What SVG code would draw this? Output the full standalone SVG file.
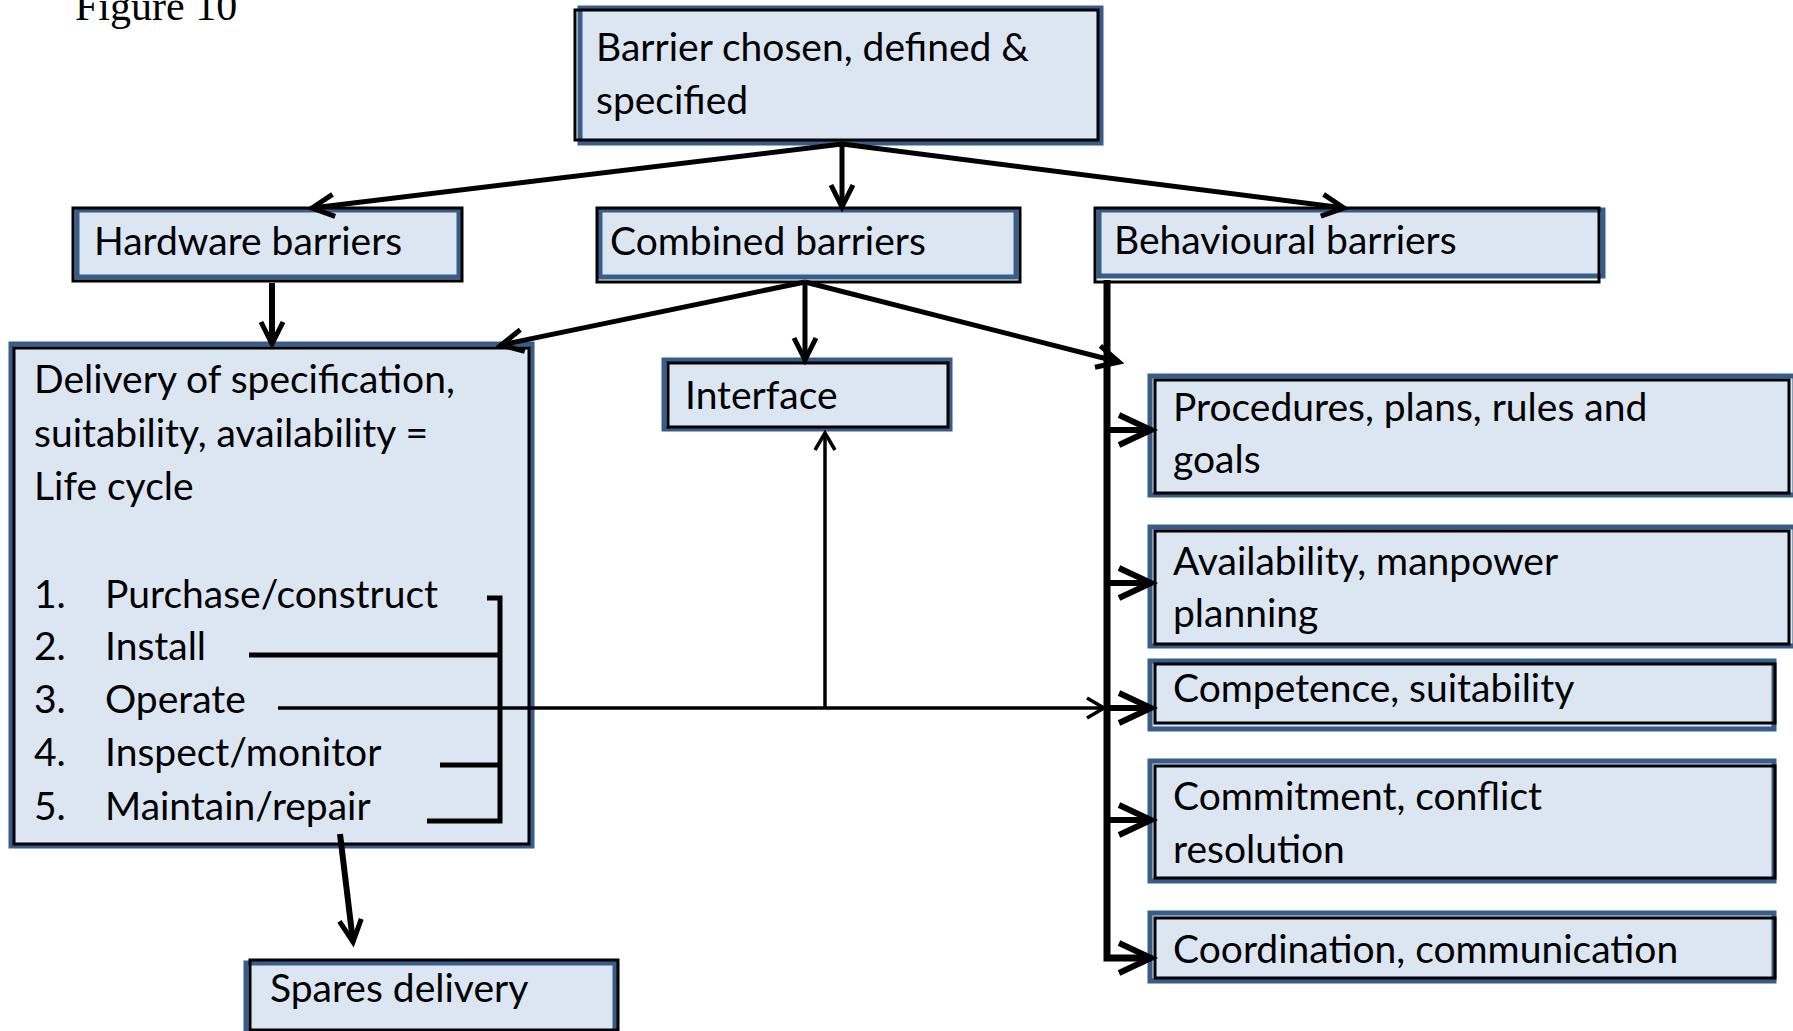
<svg xmlns="http://www.w3.org/2000/svg" width="1793" height="1031" viewBox="0 0 1793 1031">
  <style>
    .bl { fill: #DCE6F2; stroke: #385D8A; stroke-width: 5; }
    .bk { fill: none; stroke: #000; stroke-width: 3; }
    .t { font-family: Lato, "Open Sans", sans-serif; font-size: 39px; fill: #000; }
    .title { font-family: "Liberation Serif", "Times New Roman", serif; font-size: 42px; fill: #000; }
    .c { fill: none; stroke: #000; stroke-linecap: butt; stroke-linejoin: miter; }
    .w5 { stroke-width: 5; }
    .w6 { stroke-width: 6; }
    .w7 { stroke-width: 7; }
    .w35 { stroke-width: 3.5; }
  </style>
  <defs>
    <marker id="head" viewBox="-28 -16 32 32" refX="0" refY="0" markerWidth="32" markerHeight="32" orient="auto" markerUnits="userSpaceOnUse" overflow="visible">
      <path d="M-22,-11 L0,0 L-22,11" fill="none" stroke="#000" stroke-width="5"/>
    </marker>
    <marker id="busHead" viewBox="-38 -20 42 40" refX="0" refY="0" markerWidth="42" markerHeight="40" orient="auto" markerUnits="userSpaceOnUse" overflow="visible">
      <path d="M-32,-15 L0,0 L-32,15" fill="none" stroke="#000" stroke-width="6"/>
    </marker>
    <marker id="thinHead" viewBox="-22 -14 26 28" refX="0" refY="0" markerWidth="26" markerHeight="28" orient="auto" markerUnits="userSpaceOnUse" overflow="visible">
      <path d="M-17,-10 L0,0 L-17,10" fill="none" stroke="#000" stroke-width="3.5"/>
    </marker>
  </defs>

  <rect width="1793" height="1031" fill="#fff"/>

  <text class="title" x="75" y="20">Figure 10</text>

  <g id="node-barrier">
    <rect class="bl" x="580" y="8" width="521" height="135"/>
    <rect class="bk" x="575" y="10" width="523" height="130" stroke-width="2"/>
    <text class="t" x="596" y="61">Barrier chosen, defined &amp;</text>
    <text class="t" x="596" y="114">specified</text>
  </g>

  <g id="node-hardware">
    <rect class="bl" x="77" y="210" width="382" height="67"/>
    <rect class="bk" x="73" y="208" width="389" height="73"/>
    <text class="t" x="94" y="255">Hardware barriers</text>
  </g>

  <g id="node-combined">
    <rect class="bl" x="600" y="210" width="416" height="67"/>
    <rect class="bk" x="597" y="208" width="423" height="74"/>
    <text class="t" x="610" y="255">Combined barriers</text>
  </g>

  <g id="node-behavioural">
    <rect class="bl" x="1099" y="210" width="504" height="66" stroke-width="6"/>
    <rect class="bk" x="1095" y="208" width="504" height="74" stroke-width="2"/>
    <text class="t" x="1114" y="254">Behavioural barriers</text>
  </g>

  <g id="node-delivery">
    <rect class="bl" x="11" y="344" width="521" height="502"/>
    <rect class="bk" x="14" y="348" width="515" height="496" stroke-width="2.5"/>
    <text class="t" x="34" y="393">Delivery of specification,</text>
    <text class="t" x="34" y="447">suitability, availability =</text>
    <text class="t" x="34" y="500">Life cycle</text>
    <text class="t" x="34" y="608">1.</text>
    <text class="t" x="105" y="608">Purchase/construct</text>
    <text class="t" x="34" y="660">2.</text>
    <text class="t" x="105" y="660">Install</text>
    <text class="t" x="34" y="713">3.</text>
    <text class="t" x="105" y="713">Operate</text>
    <text class="t" x="34" y="766">4.</text>
    <text class="t" x="105" y="766">Inspect/monitor</text>
    <text class="t" x="34" y="820">5.</text>
    <text class="t" x="105" y="820">Maintain/repair</text>
  </g>

  <g id="node-interface">
    <rect class="bl" x="664" y="360" width="286" height="69" stroke-width="4"/>
    <rect class="bk" x="668" y="363" width="280" height="64"/>
    <text class="t" x="685" y="409">Interface</text>
  </g>

  <g id="node-spares">
    <rect class="bl" x="246" y="963" width="369" height="72"/>
    <rect class="bk" x="250" y="960" width="368" height="70"/>
    <text class="t" x="270" y="1002">Spares delivery</text>
  </g>

  <g id="node-procedures">
    <rect class="bl" x="1150" y="376" width="645" height="119"/>
    <rect class="bk" x="1155" y="380" width="634" height="113"/>
    <text class="t" x="1173" y="421">Procedures, plans, rules and</text>
    <text class="t" x="1173" y="473">goals</text>
  </g>

  <g id="node-availability">
    <rect class="bl" x="1150" y="527" width="645" height="119"/>
    <rect class="bk" x="1155" y="531" width="634" height="113"/>
    <text class="t" x="1173" y="575">Availability, manpower</text>
    <text class="t" x="1173" y="627">planning</text>
  </g>

  <g id="node-competence">
    <rect class="bl" x="1150" y="661" width="624" height="68"/>
    <rect class="bk" x="1155" y="664" width="620" height="59"/>
    <text class="t" x="1173" y="702">Competence, suitability</text>
  </g>

  <g id="node-commitment">
    <rect class="bl" x="1150" y="761" width="624" height="120"/>
    <rect class="bk" x="1155" y="766" width="620" height="112"/>
    <text class="t" x="1173" y="810">Commitment, conflict</text>
    <text class="t" x="1173" y="863">resolution</text>
  </g>

  <g id="node-coordination">
    <rect class="bl" x="1150" y="913" width="624" height="68"/>
    <rect class="bk" x="1155" y="918" width="620" height="60"/>
    <text class="t" x="1173" y="963">Coordination, communication</text>
  </g>

  <g id="connectors">
    <!-- from the chosen barrier to the three barrier types -->
    <line class="c w5" x1="842" y1="144" x2="312" y2="208" marker-end="url(#head)"/>
    <line class="c w5" x1="842" y1="144" x2="842" y2="207" marker-end="url(#head)"/>
    <line class="c w5" x1="842" y1="144" x2="1344" y2="208" marker-end="url(#head)"/>
    <!-- hardware to life cycle -->
    <line class="c w6" x1="272" y1="283" x2="272" y2="344" marker-end="url(#head)"/>
    <!-- combined barriers fan-out -->
    <line class="c w5" x1="805" y1="282" x2="501" y2="345" marker-end="url(#head)"/>
    <line class="c w5" x1="805" y1="282" x2="805" y2="360" marker-end="url(#head)"/>
    <line class="c w5" x1="805" y1="282" x2="1119" y2="362" marker-end="url(#head)"/>
    <!-- behavioural bus -->
    <polyline class="c w7" points="1107,280 1107,958 1151,958" marker-end="url(#busHead)"/>
    <line class="c w6" x1="1107" y1="430" x2="1151" y2="430" marker-end="url(#busHead)"/>
    <line class="c w6" x1="1107" y1="583" x2="1151" y2="583" marker-end="url(#busHead)"/>
    <line class="c w6" x1="1107" y1="708" x2="1151" y2="708" marker-end="url(#busHead)"/>
    <line class="c w6" x1="1107" y1="820" x2="1151" y2="820" marker-end="url(#busHead)"/>
    <!-- life cycle bracket -->
    <polyline class="c w5" points="487,598 500,598 500,821 427,821"/>
    <line class="c w5" x1="249" y1="655" x2="500" y2="655"/>
    <line class="c w5" x1="440" y1="765" x2="500" y2="765"/>
    <!-- operate link to behavioural bus and interface -->
    <line class="c w35" x1="278" y1="708" x2="1104" y2="708" marker-end="url(#thinHead)"/>
    <line class="c w35" x1="825" y1="708" x2="825" y2="433" marker-end="url(#thinHead)"/>
    <!-- life cycle to spares -->
    <line class="c w6" x1="340" y1="834" x2="353" y2="942" marker-end="url(#head)"/>
  </g>
</svg>
